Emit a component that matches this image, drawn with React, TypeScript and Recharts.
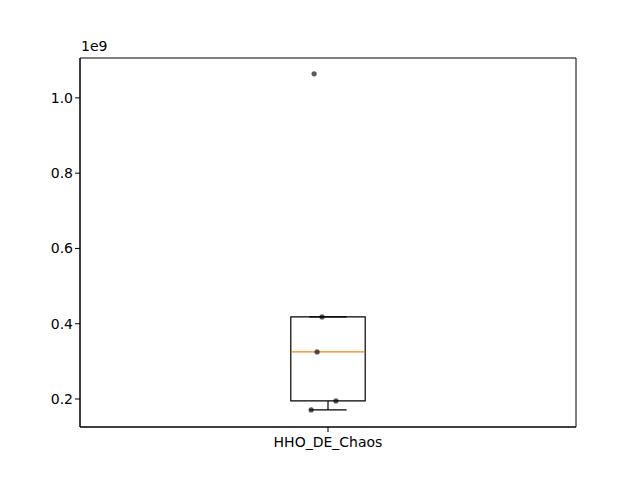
import React from 'react';
import {
  ComposedChart,
  Scatter,
  XAxis,
  YAxis,
  ReferenceArea,
  ReferenceLine,
} from 'recharts';

// one group, raw values (jittered x positions)
const category = 'HHO_DE_Chaos';
const values = [1.064e9, 0.418e9, 0.325e9, 0.195e9, 0.171e9];
const jitterX = [0.972, 0.988, 0.978, 1.016, 0.966];

// box stats: whisker low, q1, median, q3, whisker high
const boxStats = [0.171e9, 0.195e9, 0.325e9, 0.418e9, 0.418e9];

const yTicks = [0.2e9, 0.4e9, 0.6e9, 0.8e9, 1.0e9];
const yDomain = [0.1256e9, 1.106e9];

const points = values.map((v, i) => ({ x: jitterX[i], y: v }));

const FONT = 'DejaVu Sans, sans-serif';
const BOX_HALF = 0.075;
const CAP_HALF = 0.0375;

const Dot = (props: any) => {
  const { cx, cy } = props;
  return <circle cx={cx} cy={cy} r={2.6} fill="#000" fillOpacity={0.65} />;
};

export default function App() {
  const [wLo, q1, med, q3, wHi] = boxStats;
  return (
    <div style={{ position: 'absolute', left: 0, top: 0, width: 640, height: 480, background: '#fff' }}>
      <ComposedChart
        width={640}
        height={480}
        data={points}
        margin={{ top: 58, right: 64, left: 30, bottom: 23 }}
      >
        <XAxis
          type="number"
          dataKey="x"
          domain={[0.5, 1.5]}
          ticks={[1]}
          tickFormatter={() => category}
          allowDataOverflow
          height={30}
          axisLine={{ stroke: '#000' }}
          tickLine={{ stroke: '#000' }}
          tickSize={5}
          tickMargin={5}
          tick={{ fill: '#000', fontSize: 14, fontFamily: FONT }}
        />
        <YAxis
          type="number"
          dataKey="y"
          domain={yDomain}
          ticks={yTicks}
          allowDataOverflow
          width={50}
          tickFormatter={(v: number) => (v / 1e9).toFixed(1)}
          axisLine={{ stroke: '#000' }}
          tickLine={{ stroke: '#000' }}
          tickSize={5}
          tick={{ fill: '#000', fontSize: 14, fontFamily: FONT }}
        />
        {/* axes frame */}
        <ReferenceArea x1={0.5} x2={1.5} y1={yDomain[0]} y2={yDomain[1]} fill="none" stroke="#000" strokeWidth={1} />
        {/* box */}
        <ReferenceArea x1={1 - BOX_HALF} x2={1 + BOX_HALF} y1={q1} y2={q3} fill="none" fillOpacity={0} stroke="#000" strokeWidth={1.2} />
        {/* whiskers and caps */}
        <ReferenceLine segment={[{ x: 1, y: q1 }, { x: 1, y: wLo }]} stroke="#000" strokeWidth={1.2} />
        <ReferenceLine segment={[{ x: 1 - CAP_HALF, y: wLo }, { x: 1 + CAP_HALF, y: wLo }]} stroke="#000" strokeWidth={1.2} />
        <ReferenceLine segment={[{ x: 1, y: q3 }, { x: 1, y: wHi }]} stroke="#000" strokeWidth={1.2} />
        <ReferenceLine segment={[{ x: 1 - CAP_HALF, y: wHi }, { x: 1 + CAP_HALF, y: wHi }]} stroke="#000" strokeWidth={1.2} />
        {/* median */}
        <ReferenceLine segment={[{ x: 1 - BOX_HALF, y: med }, { x: 1 + BOX_HALF, y: med }]} stroke="#ff7f0e" strokeWidth={1.2} />
        <Scatter data={points} dataKey="y" shape={<Dot />} isAnimationActive={false} />
      </ComposedChart>
      <div
        style={{
          position: 'absolute',
          left: 81,
          top: 38,
          fontFamily: FONT,
          fontSize: 14,
          color: '#000',
          lineHeight: '16px',
        }}
      >
        1e9
      </div>
    </div>
  );
}
